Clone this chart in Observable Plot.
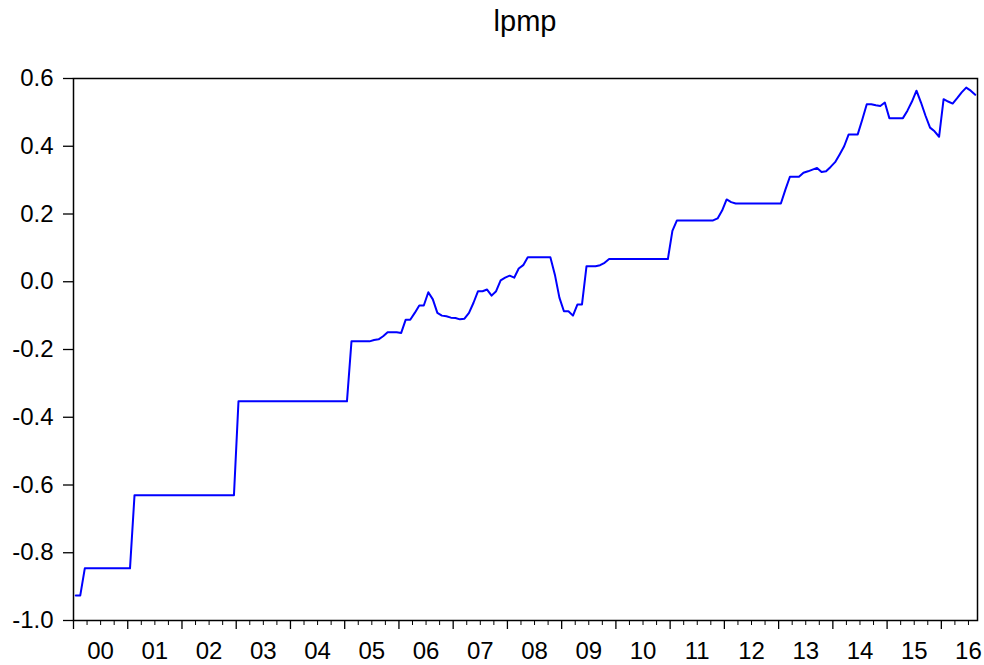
<!DOCTYPE html>
<html><head><meta charset="utf-8">
<script src="https://cdn.jsdelivr.net/npm/d3@7"></script>
<script src="https://cdn.jsdelivr.net/npm/@observablehq/plot@0.6"></script>
<style>
body{margin:0;background:#fff;}
#wrap{position:relative;width:984px;height:665px;font-family:"Liberation Sans",Arial,sans-serif;}
#title{position:absolute;left:73px;width:904px;top:5px;text-align:center;font-size:29px;color:#000;}
#chart{position:absolute;left:0;top:0;}
</style></head><body>
<div id="wrap"><div id="chart"></div><div id="title">lpmp</div></div>
<script>
// monthly observations, 2000M01 .. 2016M08
const startYear = 2000;
const lpmp = [
  -0.926,-0.926,-0.846,-0.846,-0.846,-0.846,-0.846,-0.846,-0.846,-0.846,-0.846,-0.846, // 2000
  -0.846,-0.630,-0.630,-0.630,-0.630,-0.630,-0.630,-0.630,-0.630,-0.630,-0.630,-0.630, // 2001
  -0.630,-0.630,-0.630,-0.630,-0.630,-0.630,-0.630,-0.630,-0.630,-0.630,-0.630,-0.630, // 2002
  -0.353,-0.353,-0.353,-0.353,-0.353,-0.353,-0.353,-0.353,-0.353,-0.353,-0.353,-0.353, // 2003
  -0.353,-0.353,-0.353,-0.353,-0.353,-0.353,-0.353,-0.353,-0.353,-0.353,-0.353,-0.353, // 2004
  -0.353,-0.176,-0.176,-0.176,-0.176,-0.176,-0.172,-0.170,-0.161,-0.149,-0.149,-0.149, // 2005
  -0.151,-0.112,-0.112,-0.092,-0.070,-0.070,-0.031,-0.052,-0.092,-0.100,-0.102,-0.106, // 2006
  -0.107,-0.111,-0.109,-0.092,-0.062,-0.028,-0.028,-0.023,-0.041,-0.028, 0.004, 0.012, // 2007
   0.018, 0.012, 0.039, 0.049, 0.072, 0.072, 0.072, 0.072, 0.072, 0.072, 0.021,-0.047, // 2008
  -0.087,-0.087,-0.100,-0.067,-0.067, 0.046, 0.046, 0.046, 0.049, 0.056, 0.067, 0.067, // 2009
   0.067, 0.067, 0.067, 0.067, 0.067, 0.067, 0.067, 0.067, 0.067, 0.067, 0.067, 0.067, // 2010
   0.150, 0.181, 0.181, 0.181, 0.181, 0.181, 0.181, 0.181, 0.181, 0.181, 0.187, 0.210, // 2011
   0.243, 0.235, 0.231, 0.231, 0.231, 0.231, 0.231, 0.231, 0.231, 0.231, 0.231, 0.231, // 2012
   0.231, 0.272, 0.310, 0.310, 0.310, 0.322, 0.326, 0.331, 0.336, 0.324, 0.326, 0.339, // 2013
   0.353, 0.376, 0.400, 0.435, 0.435, 0.435, 0.478, 0.524, 0.524, 0.521, 0.519, 0.529, // 2014
   0.483, 0.483, 0.483, 0.483, 0.505, 0.532, 0.564, 0.529, 0.490, 0.455, 0.444, 0.428, // 2015
   0.539, 0.532, 0.526, 0.542, 0.559, 0.573, 0.564, 0.552                              // 2016
];
const yearLabels = ["00","01","02","03","04","05","06","07","08","09","10","11","12","13","14","15","16"];
const yTicks = [0.6, 0.4, 0.2, 0.0, -0.2, -0.4, -0.6, -0.8, -1.0];

const data = lpmp.map((v, i) => ({t: startYear + (i + 0.5) / 12, v}));
const endT = startYear + lpmp.length / 12;
const yearStarts = yearLabels.map((_, k) => startYear + k);
const yearMids = yearStarts.map(y => y + 0.5);
const quarterTicks = d3.range(startYear * 4, Math.floor(endT * 4) + 1).map(q => q / 4).filter(q => q % 1 !== 0 && q < endT);

const chart = Plot.plot({
  width: 984,
  height: 665,
  marginLeft: 73,
  marginRight: 7,
  marginTop: 78,
  marginBottom: 45,
  style: {fontFamily: "'Liberation Sans', Arial, sans-serif", background: "#fff", color: "#000"},
  x: {type: "linear", domain: [startYear, endT]},
  y: {domain: [-1.0, 0.6]},
  marks: [
    Plot.axisY({ticks: yTicks, tickFormat: d => d.toFixed(1), tickSize: 10, tickPadding: 10, fontSize: 24, label: null, strokeWidth: 1.3}),
    Plot.axisX({ticks: yearStarts, tickFormat: () => "", tickSize: 9, label: null, strokeWidth: 1.3}),
    Plot.axisX({ticks: quarterTicks, tickFormat: () => "", tickSize: 5, label: null, strokeWidth: 1}),
    Plot.axisX({ticks: yearMids, tickFormat: (d, i) => yearLabels[i], tickSize: 0, tickPadding: 21, fontSize: 24, label: null}),
    Plot.line(data, {x: "t", y: "v", stroke: "#0000ff", strokeWidth: 2}),
    Plot.frame({stroke: "#000", strokeWidth: 1.5})
  ]
});
document.getElementById("chart").appendChild(chart);
</script>
</body></html>
